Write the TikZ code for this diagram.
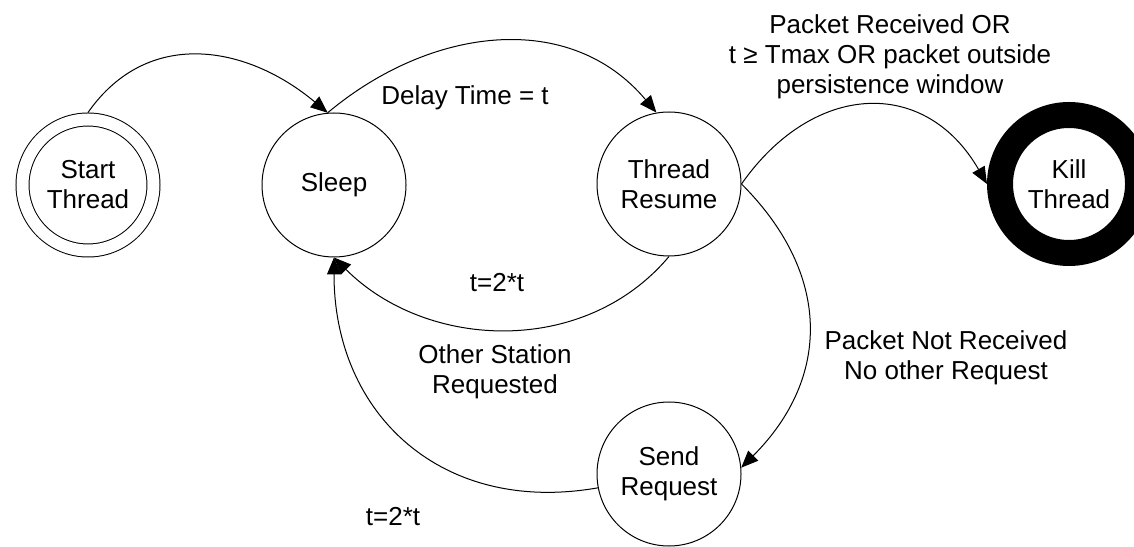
\documentclass[tikz,border=0pt]{standalone}
\usepackage{fontspec}
\setmainfont{Liberation Sans}
\usetikzlibrary{arrows.meta}

\begin{document}
\begin{tikzpicture}[x=0.5pt, y=0.5pt,
  every node/.style = {font=\fontsize{13}{15}\selectfont, align=center},
  state/.style = {shape=circle, draw, line width=0.5pt,
    minimum size=72pt, inner sep=0pt},
  startstate/.style = {state, double, double distance=6pt,
    minimum size=65.5pt, outer sep=3.5pt},
  killstate/.style = {state, line width=13pt, minimum size=69pt},
  trans/.style = {line width=0.5pt, -{Triangle[length=8.5pt, width=7pt]}}]
  \useasboundingbox (0,0) rectangle (1134,546);
  \clip (0,0) rectangle (1134,546);

  \node[startstate] (start) at (88,361) {Start\\Thread};
  \node[state] (sleep) at (334,361) {Sleep};
  \node[state] (resume) at (669,362) {Thread\\Resume};
  \node[killstate] (kill) at (1069,362) {Kill\\Thread};
  \node[state] (send) at (669,72) {Send\\Request};

  \draw[trans] (start.north) to[out=55, in=140, looseness=1.12] (sleep.95);
  \draw[trans] (sleep.95) to[out=40, in=130, looseness=1.05] (resume.100);
  \draw[trans] (resume.east) to[out=55, in=120, looseness=1.3] (kill.west);
  \draw[trans] (resume.east) to[out=-45, in=45, looseness=1.15] (send.5);
  \draw[trans] (resume.south) to[out=-130, in=-45] (sleep.south);
  \draw[trans] (send.191) to[out=190, in=-90, looseness=1.15] (sleep.south);

  \node (delay) at (465,448) {Delay Time = t};
  \node (recv) at (890,489) {Packet Received OR\\t ≥ Tmax OR packet outside\\persistence window};
  \node (retry) at (497,263) {t=2*t};
  \node (other) at (495,174) {Other Station\\Requested};
  \node (backoff) at (393,29) {t=2*t};
  \node (notrecv) at (946,188) {Packet Not Received\\No other Request};
\end{tikzpicture}
\end{document}
